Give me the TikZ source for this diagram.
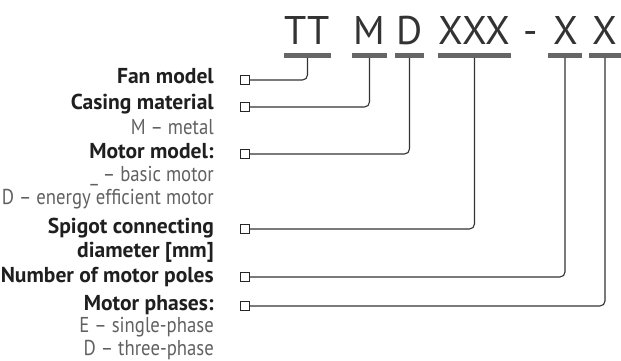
\documentclass[tikz,border=0pt]{standalone}
\usepackage{fontspec}
\setmainfont{PT Sans}
\newfontfamily\descfont[FakeStretch=0.87]{PT Sans}
\newlength\mywidthA
\newlength\mywidthB
\begin{document}
\settowidth\mywidthA{\bfseries\fontsize{10}{12}\selectfont Number of motor poles}%
\settowidth\mywidthB{\descfont\fontsize{10}{12}\selectfont D – energy efficient motor}%
\pgfmathsetmacro\labsize{10*213/\mywidthA}%
\pgfmathsetmacro\descsize{10*212/\mywidthB}%
\begin{tikzpicture}[x=1pt,y=-1pt,
  big/.style={font=\fontsize{40}{40}\selectfont, text=black!80, inner sep=0pt, anchor=base},
  bar/.style={fill=black!60, draw=none},
  lab/.style={font=\bfseries\fontsize{\labsize}{\labsize}\selectfont, text=black!88, inner sep=0pt, anchor=base east},
  desc/.style={font=\descfont\fontsize{\descsize}{\descsize}\selectfont, text=black!62, inner sep=0pt, anchor=base east},
  sq/.style={draw=black!85, line width=1pt, minimum size=9pt, inner sep=0pt, fill=white},
  conn/.style={draw=black!80, line width=1.1pt, rounded corners=5pt}
]
\useasboundingbox (0,0) rectangle (621,361);
% big code letters
\node[big] (tt) at (307.5,45) {TT};
\node[big] (m) at (369.5,45) {M};
\node[big] (d) at (409.5,45) {D};
\node[big] (xxx) at (474.5,45) {XXX};
\node[big] (dash) at (531,45) {-};
\node[big] (x1) at (566,45) {X};
\node[big] (x2) at (605,45) {X};
% bars
\fill[bar] (284,53) rectangle (331,58);
\fill[bar] (352,53) rectangle (387,58);
\fill[bar] (395,53) rectangle (424,58);
\fill[bar] (438,53) rectangle (511,58);
\fill[bar] (548,53) rectangle (582,58);
\fill[bar] (589,53) rectangle (621,58);
\coordinate (b1) at (307.5,58);
\coordinate (b2) at (369.5,58);
\coordinate (b3) at (409.5,58);
\coordinate (b4) at (474.5,58);
\coordinate (b5) at (565,58);
\coordinate (b6) at (605,58);
% labels
\node[lab] (l1) at (214,84) {Fan model};
\node[lab] (l2) at (214,110) {Casing material};
\node[desc] (d2) at (214,134) {M – metal};
\node[lab] (l3) at (214,158) {Motor model:};
\node[desc] (d3a) at (214,181) {\_ – basic motor};
\node[desc] (d3b) at (214,204) {D – energy efficient motor};
\node[lab] (l4a) at (214,233) {Spigot connecting};
\node[lab] (l4b) at (214,257) {diameter [mm]};
\node[lab] (l5) at (214,282) {Number of motor poles};
\node[lab] (l6) at (214,310) {Motor phases:};
\node[desc] (d6a) at (214,332) {E – single-phase};
\node[desc] (d6b) at (214,355) {D – three-phase};
% squares
\node[sq] (s1) at (245,80) {};
\node[sq] (s2) at (245,107) {};
\node[sq] (s3) at (245,154) {};
\node[sq] (s4) at (245,229) {};
\node[sq] (s5) at (245,277) {};
\node[sq] (s6) at (245,306) {};
% connectors
\draw[conn] (s1.east) -| (b1);
\draw[conn] (s2.east) -| (b2);
\draw[conn] (s3.east) -| (b3);
\draw[conn] (s4.east) -| (b4);
\draw[conn] (s5.east) -| (b5);
\draw[conn] (s6.east) -| (b6);
\end{tikzpicture}
\end{document}
